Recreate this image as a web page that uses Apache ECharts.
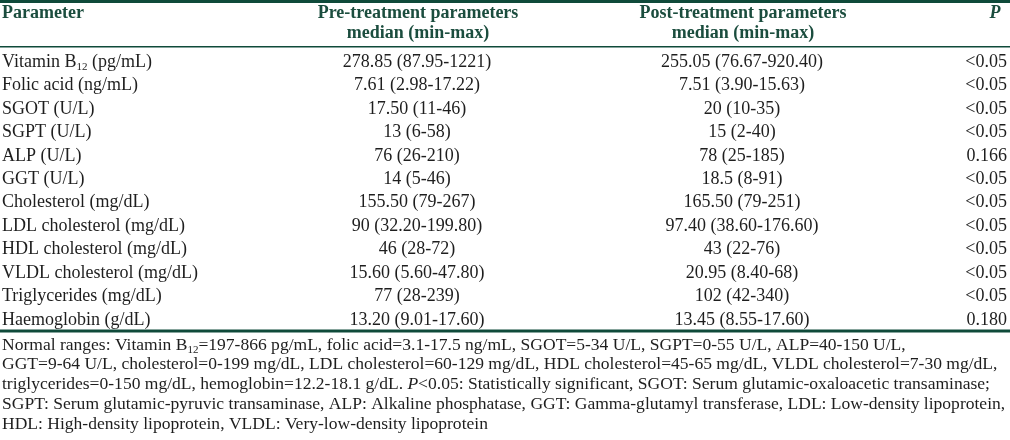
<!DOCTYPE html>
<html>
<head>
<meta charset="utf-8">
<script src="https://cdn.jsdelivr.net/npm/echarts@6/dist/echarts.min.js"></script>
<style>
  html, body { margin: 0; padding: 0; background: #ffffff; }
  #chart { width: 1010px; height: 440px; }
</style>
</head>
<body>
<div id="chart"></div>
<script>
// ---- data ----
const parameters = [
  'Vitamin B<sub>12</sub> (pg/mL)', 'Folic acid (ng/mL)', 'SGOT (U/L)', 'SGPT (U/L)',
  'ALP (U/L)', 'GGT (U/L)', 'Cholesterol (mg/dL)', 'LDL cholesterol (mg/dL)',
  'HDL cholesterol (mg/dL)', 'VLDL cholesterol (mg/dL)', 'Triglycerides (mg/dL)', 'Haemoglobin (g/dL)'
];
const preMedian = ['278.85', '7.61', '17.50', '13', '76', '14', '155.50', '90', '46', '15.60', '77', '13.20'];
const preMin    = ['87.95', '2.98', '11', '6', '26', '5', '79', '32.20', '28', '5.60', '28', '9.01'];
const preMax    = ['1221', '17.22', '46', '58', '210', '46', '267', '199.80', '72', '47.80', '239', '17.60'];
const postMedian = ['255.05', '7.51', '20', '15', '78', '18.5', '165.50', '97.40', '43', '20.95', '102', '13.45'];
const postMin    = ['76.67', '3.90', '10', '2', '25', '8', '79', '38.60', '22', '8.40', '42', '8.55'];
const postMax    = ['920.40', '15.63', '35', '40', '185', '91', '251', '176.60', '76', '68', '340', '17.60'];
const pValues = ['<0.05', '<0.05', '<0.05', '<0.05', '0.166', '<0.05', '<0.05', '<0.05', '<0.05', '<0.05', '<0.05', '0.180'];

const headerCols = ['Parameter', 'Pre-treatment parameters', 'Post-treatment parameters', '<i>P</i>'];
const headerSub = ['', 'median (min-max)', 'median (min-max)', ''];
const footnotes = [
  'Normal ranges: Vitamin B<sub>12</sub>=197-866 pg/mL, folic acid=3.1-17.5 ng/mL, SGOT=5-34 U/L, SGPT=0-55 U/L, ALP=40-150 U/L,',
  'GGT=9-64 U/L, cholesterol=0-199 mg/dL, LDL cholesterol=60-129 mg/dL, HDL cholesterol=45-65 mg/dL, VLDL cholesterol=7-30 mg/dL,',
  'triglycerides=0-150 mg/dL, hemoglobin=12.2-18.1 g/dL. <i>P</i><0.05: Statistically significant, SGOT: Serum glutamic-oxaloacetic transaminase;',
  'SGPT: Serum glutamic-pyruvic transaminase, ALP: Alkaline phosphatase, GGT: Gamma-glutamyl transferase, LDL: Low-density lipoprotein,',
  'HDL: High-density lipoprotein, VLDL: Very-low-density lipoprotein'
];

// ---- styling ----
const FAMILY = '"Liberation Serif", "Times New Roman", serif';
const BODY_SIZE = 18;
const FOOT_SIZE = 17.55;
const BODY_COLOR = '#1e1e1e';
const HEAD_COLOR = '#1b4d3e';
const RULE_COLOR = '#0f4a3a';

const measureCtx = document.createElement('canvas').getContext('2d');
function fontStr(size, bold, italic) {
  return (italic ? 'italic ' : '') + (bold ? 'bold ' : '') + size + 'px ' + FAMILY;
}
function parse(str) {
  const out = []; const re = /<(sub|i)>(.*?)<\/\1>/g; let last = 0, m;
  while ((m = re.exec(str))) {
    if (m.index > last) out.push({ t: str.slice(last, m.index) });
    out.push({ t: m[2], sub: m[1] === 'sub', it: m[1] === 'i' });
    last = re.lastIndex;
  }
  if (last < str.length) out.push({ t: str.slice(last) });
  return out;
}
// Build text elements for a string with optional <sub>/<i> markup
function richPieces(str, x, y, align, bold, color, baseSize) {
  const bs = baseSize || BODY_SIZE;
  const parts = parse(str).map(p => {
    const size = p.sub ? Math.round(bs * 0.61) : bs;
    const font = fontStr(size, bold, p.it);
    measureCtx.font = font;
    return Object.assign({}, p, { font: font, w: measureCtx.measureText(p.t).width });
  });
  const total = parts.reduce((s, p) => s + p.w, 0);
  let cx = align === 'center' ? x - total / 2 : (align === 'right' ? x - total : x);
  const els = [];
  parts.forEach(p => {
    els.push({
      type: 'text',
      silent: true,
      style: {
        text: p.t, x: cx, y: y + (p.sub ? 5 : 0), font: p.font, fill: color,
        align: 'left', verticalAlign: 'middle', textAlign: 'left', textVerticalAlign: 'middle'
      }
    });
    cx += p.w;
  });
  return els;
}

// column anchors (in x-axis units = pixels)
const COL_PARAM_X = 2, COL_PRE_X = 417, COL_POST_X = 742, COL_P_X = 1007;

const rowIndex = parameters.map((p, i) => i);

// ---- graphic (header, rules, footnote) ----
const graphics = [];
graphics.push({ type: 'rect', shape: { x: 0, y: 0, width: 1010, height: 3 }, style: { fill: RULE_COLOR }, silent: true });
graphics.push({ type: 'rect', shape: { x: 0, y: 46, width: 1010, height: 1.6 }, style: { fill: RULE_COLOR }, silent: true });
graphics.push({ type: 'rect', shape: { x: 0, y: 329.5, width: 1010, height: 3 }, style: { fill: RULE_COLOR }, silent: true });
const headX = [COL_PARAM_X, 418, 743, 995];
const headAlign = ['left', 'center', 'center', 'center'];
headerCols.forEach((h, i) => {
  richPieces(h, headX[i], 13.5, headAlign[i], true, HEAD_COLOR).forEach(e => graphics.push(e));
  if (headerSub[i]) richPieces(headerSub[i], headX[i], 33, headAlign[i], true, HEAD_COLOR).forEach(e => graphics.push(e));
});
footnotes.forEach((f, i) => {
  richPieces(f, 2, 345 + 19.8 * i, 'left', false, BODY_COLOR, FOOT_SIZE).forEach(e => graphics.push(e));
});

const chart = echarts.init(document.getElementById('chart'), null, { renderer: 'canvas' });
chart.setOption({
  animation: false,
  backgroundColor: '#ffffff',
  grid: { left: 0, right: 0, top: 50.3, height: 281.4 },
  xAxis: { type: 'value', min: 0, max: 1010, show: false },
  yAxis: { type: 'category', data: parameters, inverse: true, show: false },
  graphic: graphics,
  series: [{
    type: 'custom',
    coordinateSystem: 'cartesian2d',
    clip: false,
    silent: true,
    encode: { x: 0, y: 1 },
    data: rowIndex.map(i => [0, i]),
    renderItem: function (params, api) {
      const i = api.value(1);
      const y = api.coord([0, i])[1];
      const xParam = api.coord([COL_PARAM_X, i])[0];
      const xPre = api.coord([COL_PRE_X, i])[0];
      const xPost = api.coord([COL_POST_X, i])[0];
      const xP = api.coord([COL_P_X, i])[0];
      let children = [];
      children = children.concat(richPieces(parameters[i], xParam, y, 'left', false, BODY_COLOR));
      children = children.concat(richPieces(preMedian[i] + ' (' + preMin[i] + '-' + preMax[i] + ')', xPre, y, 'center', false, BODY_COLOR));
      children = children.concat(richPieces(postMedian[i] + ' (' + postMin[i] + '-' + postMax[i] + ')', xPost, y, 'center', false, BODY_COLOR));
      children = children.concat(richPieces(pValues[i], xP, y, 'right', false, BODY_COLOR));
      return { type: 'group', children: children };
    }
  }]
});
</script>
</body>
</html>
